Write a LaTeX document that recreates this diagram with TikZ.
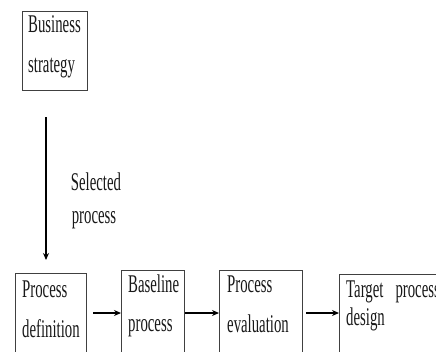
\documentclass[tikz,border=0pt]{standalone}
\usepackage{fontspec}
\newfontfamily\condfont[FakeStretch=0.58]{Liberation Serif}
\usetikzlibrary{arrows.meta}
\begin{document}
\begin{tikzpicture}[x=1pt,y=-1pt,
  box/.style={draw=black!75,line width=1.4pt,rectangle,inner sep=0pt,anchor=north west},
  lbl/.style={anchor=base west,inner sep=0pt,text=black!90,font=\condfont\fontsize{25.5}{30}\selectfont},
  clbl/.style={anchor=base,inner sep=0pt,text=black!90,font=\condfont\fontsize{25.5}{30}\selectfont},
  conn/.style={line width=1.3pt,-{Stealth[length=7pt,width=6pt]}}]
\clip (0,0) rectangle (436,351);
\fill[white] (0,0) rectangle (436,351);
% boxes
\node[box,minimum width=65pt,minimum height=79pt] (biz) at (22,11) {};
\node[box,minimum width=71pt,minimum height=110pt] (def) at (15,273) {};
\node[box,minimum width=63pt,minimum height=110pt] (base) at (121,270) {};
\node[box,minimum width=83pt,minimum height=110pt] (eval) at (219,270) {};
\node[box,minimum width=120pt,minimum height=110pt] (tgt) at (339,274) {};
% texts
\node[lbl] (biz1) at (28,32) {Business};
\node[lbl] (biz2) at (28,72) {strategy};
\node[clbl] (sel1) at (96,190) {Selected};
\node[clbl] (sel2) at (94,223) {process};
\node[lbl] (def1) at (22,297) {Process};
\node[lbl] (def2) at (22,337) {definition};
\node[lbl] (base1) at (128,292) {Baseline};
\node[lbl] (base2) at (128,331) {process};
\node[lbl] (eval1) at (227,292) {Process};
\node[lbl] (eval2) at (227,332) {evaluation};
\node[lbl] (tgt1) at (346,297) {Target\hspace{12pt}process};
\node[lbl] (tgt2) at (346,325) {design};
% connectors
\coordinate (ds) at (46,117);
\coordinate (de) at (46,260);
\coordinate (row) at (0,313);
\draw[conn] (ds) -- (de);
\draw[conn,shorten <=6pt] (def.east |- row) -- (base.west |- row);
\draw[conn] (base.east |- row) -- (eval.west |- row);
\draw[conn,shorten <=3pt] (eval.east |- row) -- (tgt.west |- row);
\end{tikzpicture}
\end{document}
